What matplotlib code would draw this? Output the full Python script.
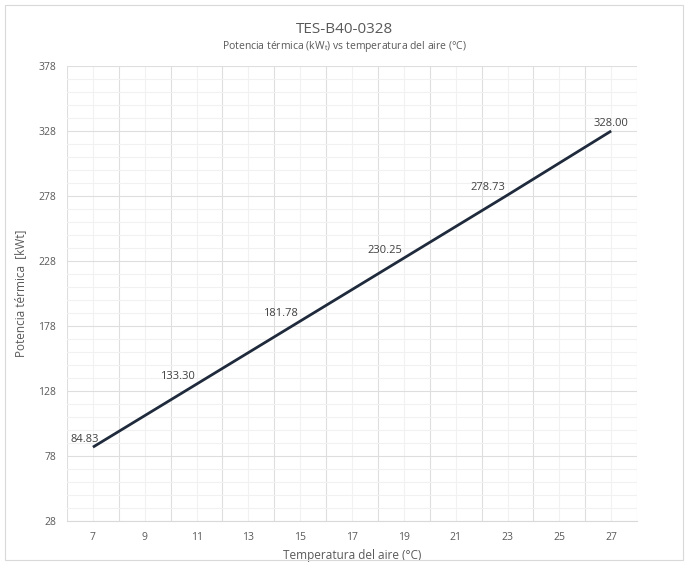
import matplotlib
matplotlib.use("Agg")
import matplotlib.pyplot as plt
from matplotlib.patches import Rectangle

# Datos
temperaturas = [7, 11, 15, 19, 23, 27]
potencia = [84.83, 133.30, 181.78, 230.25, 278.73, 328.00]
etiquetas = ["84.83", "133.30", "181.78", "230.25", "278.73", "328.00"]
x_ticks = list(range(7, 28, 2))
y_ticks = list(range(28, 379, 50))

plt.rcParams['font.family'] = ['Open Sans', 'DejaVu Sans']
plt.rcParams['mathtext.default'] = 'regular'
gris = '#595959'

fig = plt.figure(figsize=(6.88, 5.64), dpi=100)
ax = fig.add_axes([0.0974, 0.0762, 0.8286, 0.8068])

# borde del grafico
fig.patches.append(Rectangle((0.007, 0.007), 0.986, 0.984, transform=fig.transFigure,
                             fill=False, edgecolor='#d9d9d9', linewidth=0.8))

ax.plot(temperaturas, potencia, color='#1f2b3c', linewidth=2, solid_capstyle='butt')

# etiquetas de datos
for i, (x, y, t) in enumerate(zip(temperaturas, potencia, etiquetas)):
    if i == 0:
        dx = -6
    elif i == len(temperaturas) - 1:
        dx = 0
    else:
        dx = -14
    ax.annotate(t, (x, y), xytext=(dx, 1.5), textcoords='offset points',
                ha='center', va='bottom', fontsize=8, color='#404040')

ax.set_xlim(6, 28)
ax.set_ylim(28, 378)
ax.set_xticks(x_ticks)
ax.set_xticks(range(6, 29, 2), minor=True)
ax.set_yticks(y_ticks)
ax.set_yticks(range(28, 379, 10), minor=True)
ax.tick_params(which='both', length=0, labelsize=7.5, labelcolor=gris, pad=8)

ax.grid(which='major', axis='y', color='#dedede', linewidth=0.8)
ax.grid(which='minor', axis='y', color='#f1f1f1', linewidth=0.8)
ax.grid(which='minor', axis='x', color='#dedede', linewidth=0.8)
ax.grid(which='major', axis='x', color='#f1f1f1', linewidth=0.8)
ax.set_axisbelow(True)

for s in ['top', 'right', 'left']:
    ax.spines[s].set_visible(False)
ax.spines['bottom'].set_color('#d9d9d9')

ax.set_xlabel('Temperatura del aire (°C)', fontsize=8.5, color=gris, labelpad=4)
ax.set_ylabel('Potencia térmica  [kWt]', fontsize=8.5, color=gris, labelpad=8)

fig.text(0.5, 0.948, 'TES-B40-0328', ha='center', va='center', fontsize=11, color=gris)
fig.text(0.5, 0.918, 'Potencia térmica (kW$_t$) vs temperatura del aire (°C)',
         ha='center', va='center', fontsize=7.5, color=gris)

fig.savefig('out.png', dpi=100)
